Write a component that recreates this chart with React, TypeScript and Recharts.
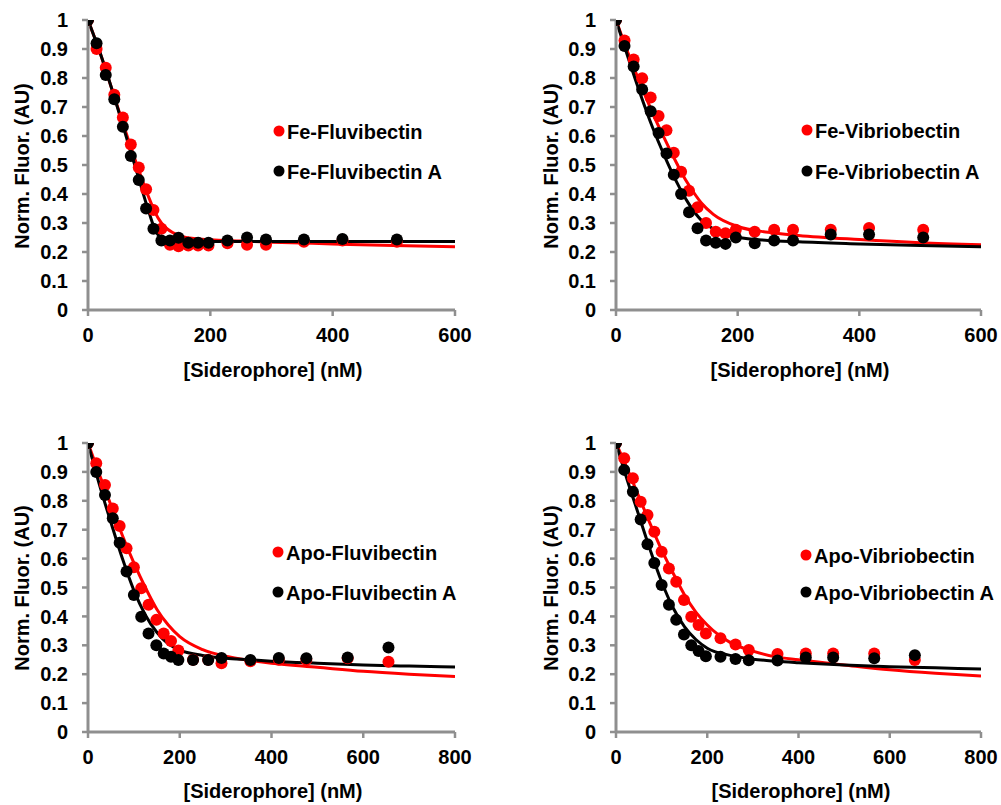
import React from "react";
import { ComposedChart, Scatter, Line, XAxis, YAxis } from "recharts";

// ---- Data ----
const topX = [0, 14, 29, 43, 57, 70, 83, 95, 107, 120, 134, 148, 164, 180, 197, 228, 260, 291, 353, 416, 505];
const feFluvibectin = [1.0, 0.9, 0.835, 0.742, 0.664, 0.571, 0.491, 0.416, 0.345, 0.28, 0.225, 0.22, 0.222, 0.222, 0.222, 0.23, 0.225, 0.225, 0.235, 0.24, 0.235];
const feFluvibectinA = [1.0, 0.92, 0.81, 0.727, 0.632, 0.531, 0.448, 0.35, 0.28, 0.24, 0.24, 0.249, 0.232, 0.232, 0.232, 0.24, 0.25, 0.243, 0.243, 0.245, 0.243];
const feVibriobectin = [1.0, 0.929, 0.864, 0.799, 0.733, 0.669, 0.62, 0.542, 0.477, 0.411, 0.354, 0.3, 0.27, 0.265, 0.277, 0.27, 0.277, 0.277, 0.277, 0.283, 0.277];
const feVibriobectinA = [1.0, 0.91, 0.84, 0.76, 0.685, 0.61, 0.54, 0.466, 0.4, 0.337, 0.282, 0.24, 0.232, 0.228, 0.25, 0.23, 0.24, 0.24, 0.26, 0.26, 0.25];

const botX = [0, 18, 37, 54, 69, 84, 100, 116, 132, 149, 165, 181, 197, 229, 262, 291, 354, 416, 476, 566, 655];
const apoFluvibectin = [1.0, 0.93, 0.855, 0.773, 0.713, 0.636, 0.57, 0.497, 0.44, 0.388, 0.341, 0.315, 0.282, 0.25, 0.25, 0.238, 0.245, 0.25, 0.25, 0.255, 0.243];
const apoFluvibectinA = [1.0, 0.9, 0.82, 0.74, 0.655, 0.555, 0.474, 0.399, 0.341, 0.3, 0.272, 0.26, 0.249, 0.249, 0.249, 0.256, 0.249, 0.256, 0.255, 0.258, 0.292];
const apoVibriobectin = [1.0, 0.947, 0.878, 0.797, 0.751, 0.693, 0.624, 0.566, 0.52, 0.457, 0.399, 0.37, 0.341, 0.324, 0.303, 0.284, 0.27, 0.272, 0.272, 0.272, 0.249];
const apoVibriobectinA = [1.0, 0.907, 0.831, 0.735, 0.65, 0.585, 0.509, 0.44, 0.388, 0.337, 0.3, 0.28, 0.262, 0.26, 0.253, 0.248, 0.247, 0.258, 0.258, 0.255, 0.266];

// fitted curves
const fitTopX = [0, 20, 40, 60, 80, 100, 110, 120, 140, 160, 200, 250, 300, 400, 500, 600];
const fitFeFlu = [1.0, 0.885, 0.755, 0.625, 0.5, 0.385, 0.335, 0.3, 0.265, 0.25, 0.242, 0.238, 0.234, 0.228, 0.222, 0.218];
const fitFeFluA = [1.0, 0.885, 0.755, 0.615, 0.475, 0.335, 0.275, 0.25, 0.24, 0.237, 0.236, 0.236, 0.236, 0.236, 0.236, 0.236];
const fitFeVib = [1.0, 0.885, 0.78, 0.68, 0.59, 0.505, 0.465, 0.43, 0.37, 0.33, 0.288, 0.268, 0.257, 0.243, 0.232, 0.225];
const fitFeVibA = [1.0, 0.87, 0.745, 0.63, 0.53, 0.44, 0.4, 0.365, 0.31, 0.28, 0.252, 0.24, 0.235, 0.228, 0.222, 0.218];

const fitBotX = [0, 25, 50, 75, 100, 125, 150, 175, 200, 250, 300, 350, 400, 500, 600, 700, 800];
const fitApoFlu = [1.0, 0.89, 0.785, 0.68, 0.585, 0.5, 0.425, 0.37, 0.33, 0.285, 0.262, 0.248, 0.238, 0.224, 0.21, 0.2, 0.192];
const fitApoFluA = [1.0, 0.855, 0.725, 0.6, 0.49, 0.405, 0.345, 0.305, 0.283, 0.265, 0.255, 0.25, 0.245, 0.238, 0.232, 0.228, 0.225];
const fitApoVib = [1.0, 0.91, 0.815, 0.72, 0.63, 0.55, 0.475, 0.415, 0.37, 0.31, 0.28, 0.26, 0.25, 0.232, 0.215, 0.203, 0.194];
const fitApoVibA = [1.0, 0.87, 0.75, 0.63, 0.52, 0.43, 0.365, 0.32, 0.29, 0.265, 0.252, 0.245, 0.24, 0.232, 0.226, 0.222, 0.218];

const yTicks = [0, 0.1, 0.2, 0.3, 0.4, 0.5, 0.6, 0.7, 0.8, 0.9, 1];
const xTicksTop = [0, 200, 400, 600];
const xTicksBot = [0, 200, 400, 600, 800];

const yTitle = "Norm. Fluor. (AU)";
const xTitle = "[Siderophore] (nM)";

const legendTop1 = ["Fe-Fluvibectin", "Fe-Fluvibectin A"];
const legendTop2 = ["Fe-Vibriobectin", "Fe-Vibriobectin A"];
const legendBot1 = ["Apo-Fluvibectin", "Apo-Fluvibectin A"];
const legendBot2 = ["Apo-Vibriobectin", "Apo-Vibriobectin A"];

const pts = (xs: number[], ys: number[]) => xs.map((x, i) => ({ x, y: ys[i] }));

const RED = "#ff0000";
const BLACK = "#000000";
const AXIS = "#8f8f8f";
const FONT = "'Liberation Sans', Arial, sans-serif";

type PanelProps = {
  left: number;
  top: number;
  width: number;
  height: number;
  marginRight: number;
  marginBottom: number;
  xMax: number;
  xTicks: number[];
  redPts: { x: number; y: number }[];
  blackPts: { x: number; y: number }[];
  redFit: { x: number; y: number }[];
  blackFit: { x: number; y: number }[];
};

const dot = (color: string) => (p: any) =>
  <circle cx={p.cx} cy={p.cy} r={6} fill={color} />;

const tickStyle = { fontFamily: FONT, fontWeight: 700, fontSize: 20, fill: "#000" };

function Panel(props: PanelProps) {
  const { left, top, width, height, marginRight, marginBottom, xMax, xTicks } = props;
  return (
    <div style={{ position: "absolute", left, top, width, height }}>
      <ComposedChart
        width={width}
        height={height}
        margin={{ top: 20, right: marginRight, bottom: marginBottom, left: 28 }}
      >
        <XAxis
          type="number"
          dataKey="x"
          domain={[0, xMax]}
          ticks={xTicks}
          allowDataOverflow
          tickSize={6}
          tickMargin={12}
          height={40}
          axisLine={{ stroke: AXIS, strokeWidth: 3 }}
          tickLine={{ stroke: AXIS, strokeWidth: 2.5 }}
          tick={tickStyle}
          interval={0}
        />
        <YAxis
          type="number"
          dataKey="y"
          domain={[0, 1]}
          ticks={yTicks}
          allowDataOverflow
          width={60}
          tickSize={6}
          tickMargin={14}
          axisLine={{ stroke: AXIS, strokeWidth: 3 }}
          tickLine={{ stroke: AXIS, strokeWidth: 2.5 }}
          tick={tickStyle}
          interval={0}
          tickFormatter={(v: number) => String(v)}
        />
        <Scatter data={props.redPts} dataKey="y" fill={RED} shape={dot(RED)} isAnimationActive={false} />
        <Scatter data={props.blackPts} dataKey="y" fill={BLACK} shape={dot(BLACK)} isAnimationActive={false} />
        <Line data={props.redFit} dataKey="y" type="monotone" stroke={RED} strokeWidth={3} dot={false} activeDot={false} isAnimationActive={false} />
        <Line data={props.blackFit} dataKey="y" type="monotone" stroke={BLACK} strokeWidth={3} dot={false} activeDot={false} isAnimationActive={false} />
      </ComposedChart>
    </div>
  );
}

const textProps = { fontFamily: FONT, fontWeight: 700, fontSize: 20, fill: "#000" } as const;

function Titles(p: { yx: number; yy: number; xx: number; xy: number; legend: string[]; lx: number; ly1: number; ly2: number }) {
  return (
    <g>
      <text {...textProps} x={p.yx} y={p.yy} textAnchor="middle" dominantBaseline="central" transform={`rotate(-90 ${p.yx} ${p.yy})`}>
        {yTitle}
      </text>
      <text {...textProps} x={p.xx} y={p.xy} textAnchor="middle" dominantBaseline="central">
        {xTitle}
      </text>
      <circle cx={p.lx} cy={p.ly1} r={5.5} fill={RED} />
      <text {...textProps} x={p.lx + 8} y={p.ly1 + 1} dominantBaseline="central">{p.legend[0]}</text>
      <circle cx={p.lx} cy={p.ly2} r={5.5} fill={BLACK} />
      <text {...textProps} x={p.lx + 8} y={p.ly2 + 1} dominantBaseline="central">{p.legend[1]}</text>
    </g>
  );
}

export default function App() {
  return (
    <div style={{ position: "absolute", left: 0, top: 0, width: 1001, height: 805, background: "#fff", overflow: "hidden" }}>
      <Panel left={0} top={0} width={500} height={400} marginRight={45} marginBottom={50} xMax={600} xTicks={xTicksTop}
        redPts={pts(topX, feFluvibectin)} blackPts={pts(topX, feFluvibectinA)}
        redFit={pts(fitTopX, fitFeFlu)} blackFit={pts(fitTopX, fitFeFluA)} />
      <Panel left={528} top={0} width={500} height={400} marginRight={47} marginBottom={50} xMax={600} xTicks={xTicksTop}
        redPts={pts(topX, feVibriobectin)} blackPts={pts(topX, feVibriobectinA)}
        redFit={pts(fitTopX, fitFeVib)} blackFit={pts(fitTopX, fitFeVibA)} />
      <Panel left={0} top={423} width={500} height={399} marginRight={45} marginBottom={50} xMax={800} xTicks={xTicksBot}
        redPts={pts(botX, apoFluvibectin)} blackPts={pts(botX, apoFluvibectinA)}
        redFit={pts(fitBotX, fitApoFlu)} blackFit={pts(fitBotX, fitApoFluA)} />
      <Panel left={528} top={423} width={500} height={399} marginRight={47} marginBottom={50} xMax={800} xTicks={xTicksBot}
        redPts={pts(botX, apoVibriobectin)} blackPts={pts(botX, apoVibriobectinA)}
        redFit={pts(fitBotX, fitApoVib)} blackFit={pts(fitBotX, fitApoVibA)} />
      <svg width={1001} height={805} style={{ position: "absolute", left: 0, top: 0, pointerEvents: "none" }}>
        <Titles yx={22} yy={166} xx={273} xy={370} legend={legendTop1} lx={279} ly1={131} ly2={171} />
        <Titles yx={551} yy={166} xx={800} xy={370} legend={legendTop2} lx={807} ly1={130} ly2={171} />
        <Titles yx={22} yy={588} xx={273} xy={791} legend={legendBot1} lx={278} ly1={552} ly2={592} />
        <Titles yx={551} yy={588} xx={801} xy={791} legend={legendBot2} lx={806} ly1={555} ly2={592} />
      </svg>
    </div>
  );
}
